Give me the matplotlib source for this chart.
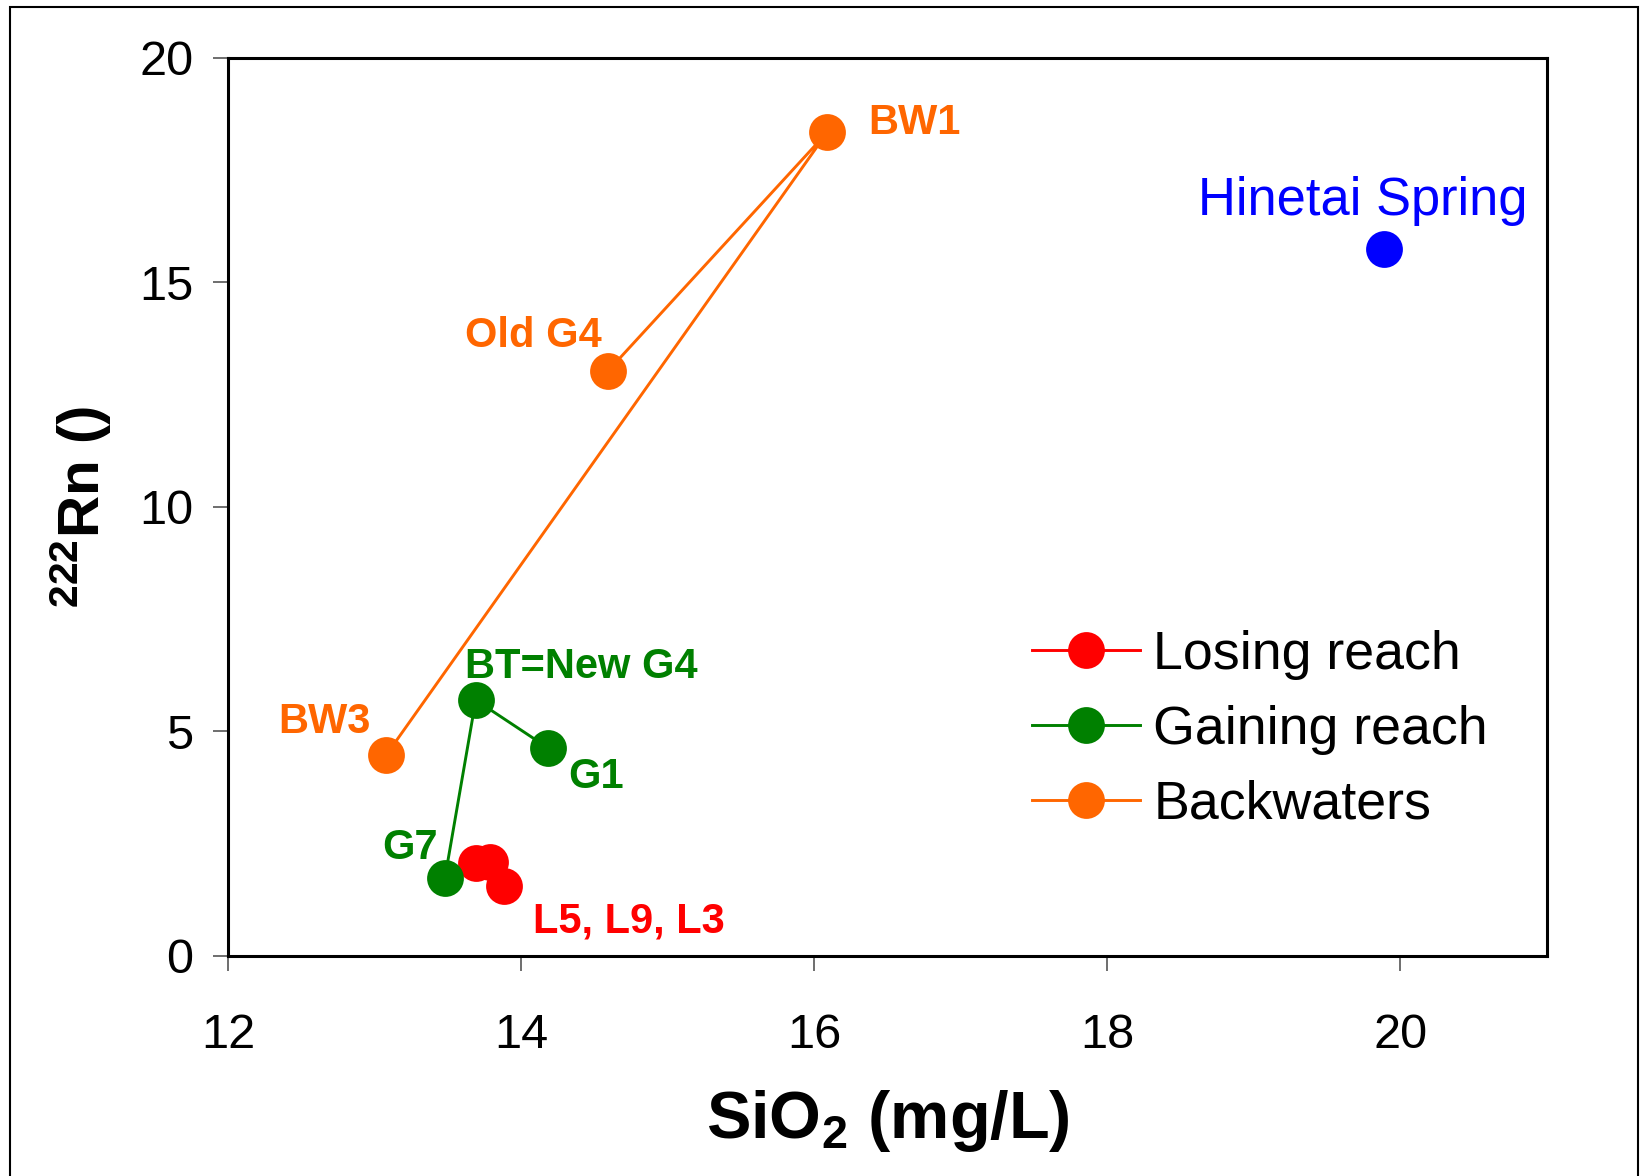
"""
222Rn against SiO2 for the river reaches, backwaters and Hinetai Spring.
"""

import matplotlib
matplotlib.use("Agg")
import matplotlib.pyplot as plt
from matplotlib.patches import Rectangle

plt.rcParams['font.family'] = ['Liberation Sans', 'DejaVu Sans']
plt.rcParams['mathtext.fontset'] = 'custom'
plt.rcParams['mathtext.rm'] = 'Liberation Sans:bold'
plt.rcParams['mathtext.bf'] = 'Liberation Sans:bold'
plt.rcParams['mathtext.default'] = 'bf'

# losing reach: L5, L9, L3
losing_sio2 = [13.69, 13.79, 13.88]
losing_rn = [2.07, 2.09, 1.56]

# gaining reach: G1, BT=New G4, G7
gaining_sio2 = [14.18, 13.69, 13.48]
gaining_rn = [4.64, 5.70, 1.74]

# backwaters: Old G4, BW1, BW3
back_sio2 = [14.59, 16.09, 13.08]
back_rn = [13.02, 18.35, 4.48]

spring_sio2 = [19.89]
spring_rn = [15.75]

# point labels: text, x, y, colour, bold
labels = [
    ("BW1", 16.37, 18.55, "#ff6600", True),
    ("Old G4", 13.62, 13.80, "#ff6600", True),
    ("BW3", 12.34, 5.21, "#ff6600", True),
    ("BT=New G4", 13.62, 6.44, "#008000", True),
    ("G1", 14.32, 3.99, "#008000", True),
    ("G7", 13.05, 2.41, "#008000", True),
    ("L5, L9, L3", 14.08, 0.77, "#ff0000", True),
    ("Hinetai Spring", 18.62, 16.82, "#0000ff", False),
]


def main():
    fig = plt.figure(figsize=(16.43, 11.76), dpi=100)
    ax = fig.add_axes([0.1388, 0.1871, 0.8028, 0.7636])

    style = dict(marker='o', ms=26.5, lw=2.1, mew=0)
    ax.plot(losing_sio2, losing_rn, color='#ff0000', label='Losing reach', **style)
    ax.plot(gaining_sio2, gaining_rn, color='#008000', label='Gaining reach', **style)
    ax.plot(back_sio2, back_rn, color='#ff6600', label='Backwaters', **style)
    ax.plot(spring_sio2, spring_rn, color='#0000ff', ls='none', marker='o', ms=26.5, mew=0)

    for text, x, y, colour, bold in labels:
        ax.text(x, y, text, color=colour, va='center', ha='left',
                fontsize=30 if bold else 37.8,
                fontweight='bold' if bold else 'normal')

    ax.set_xlim(12, 21)
    ax.set_ylim(0, 20)
    ax.set_xticks([12, 14, 16, 18, 20])
    ax.set_yticks([0, 5, 10, 15, 20])
    ax.tick_params(axis='both', direction='out', length=11, width=1.2,
                   color='#555555', labelsize=35)
    ax.tick_params(axis='y', pad=14)
    ax.tick_params(axis='x', pad=30)
    for spine in ax.spines.values():
        spine.set_linewidth(2.2)

    ax.set_xlabel('SiO$_2$ (mg/L)', fontsize=48, fontweight='bold', labelpad=22)
    ax.set_ylabel('$^{222}$Rn ()', fontsize=42, fontweight='bold', labelpad=18)

    ax.legend(loc='center left', bbox_to_anchor=(0.573, 0.252), frameon=False,
              fontsize=38.7, handlelength=2.0, handletextpad=0.25, labelspacing=0.46)

    # outer frame, open at the bottom
    fig.patches.append(Rectangle((10 / 1643, -0.1), 1628 / 1643, 1.1 - 7 / 1176,
                                 transform=fig.transFigure, fill=False,
                                 lw=1.5, ec='black'))

    fig.savefig("out.png", dpi=100)
    plt.close(fig)


if __name__ == "__main__":
    main()
